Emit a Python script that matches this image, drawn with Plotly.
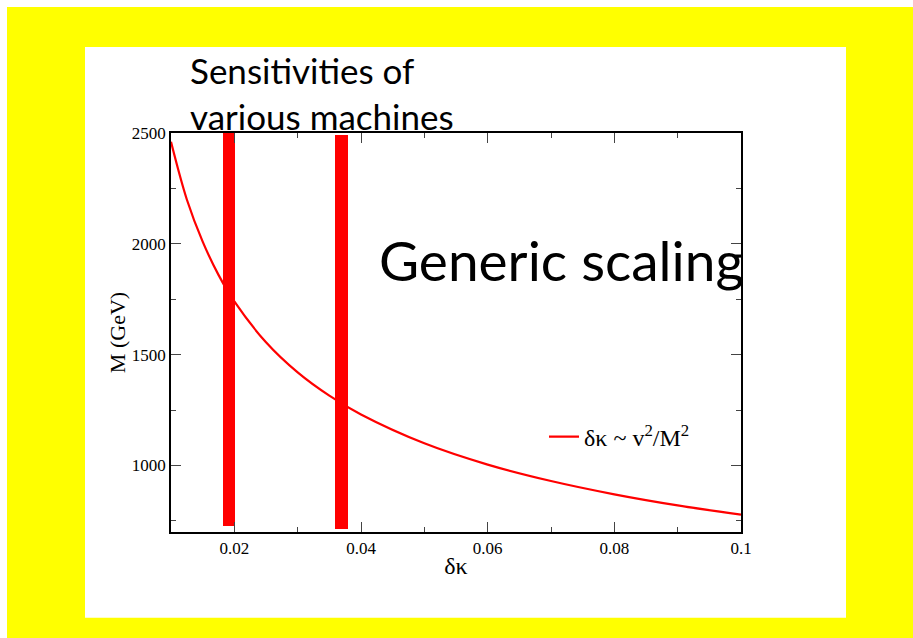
import plotly.graph_objects as go

# Curve: delta kappa vs mass scale M (GeV)
dk = [0.010, 0.0125, 0.015, 0.0175, 0.020, 0.025, 0.030, 0.035, 0.040,
      0.050, 0.060, 0.070, 0.080, 0.090, 0.100]
mass = [2460, 2200, 2010, 1860, 1740, 1556, 1420, 1315, 1230,
        1100, 1004, 930, 870, 820, 778]

# Sensitivity bars (vertical red bands)
bar_x = [0.0192, 0.0369]
bar_width = [0.0019, 0.0020]
bar_bottom = [728, 712]
bar_top = [2500, 2490]

x_range = [0.01, 0.1]
y_range = [700, 2500]

legend_label = "δκ ~ v<sup>2</sup>/M<sup>2</sup>"
title_text = "Sensitivities of<br>various machines"
big_text = "Generic scaling"

W, H = 913, 638
L, R, T, B = 171, 741, 133, 532


def px(xp):
    return (xp - L) / (R - L)


def py(yp):
    return (B - yp) / (B - T)


fig = go.Figure()

fig.add_trace(go.Bar(
    x=bar_x, y=[t - b for t, b in zip(bar_top, bar_bottom)], base=bar_bottom,
    width=bar_width, marker=dict(color="#ff0000", line=dict(width=0)),
    showlegend=False, hoverinfo="skip"))

fig.add_trace(go.Scatter(
    x=dk, y=mass, mode="lines", line=dict(color="#ff0000", width=2.2, shape="spline"),
    name=legend_label, showlegend=True))

serif = "Liberation Serif, Times New Roman, serif"

axis_common = dict(
    showline=True, linecolor="black", linewidth=1.5, mirror="allticks",
    ticks="inside", ticklen=10, tickwidth=1, tickcolor="#444",
    showgrid=False, zeroline=False,
    tickfont=dict(family=serif, size=17, color="black"),
)

fig.update_xaxes(range=x_range, dtick=0.02, tick0=0,
                 minor=dict(ticks="inside", ticklen=5, dtick=0.01, tick0=0, tickcolor="#444", showgrid=False),
                 title=dict(text="δκ", font=dict(family=serif, size=24, color="black"), standoff=0),
                 **axis_common)
fig.update_yaxes(range=y_range, dtick=500, tick0=0,
                 minor=dict(ticks="inside", ticklen=5, dtick=250, tick0=0, tickcolor="#444", showgrid=False),
                 title=dict(text="M (GeV)", font=dict(family=serif, size=22, color="black"), standoff=0),
                 **axis_common)

shapes = [
    dict(type="rect", xref="paper", yref="paper", x0=px(7), x1=px(913), y0=py(638), y1=py(7),
         fillcolor="#ffff00", line=dict(width=0), layer="below"),
    dict(type="rect", xref="paper", yref="paper", x0=px(85), x1=px(846), y0=py(617.7), y1=py(47),
         fillcolor="white", line=dict(width=0), layer="below"),
]

annotations = [
    dict(text=title_text, xref="paper", yref="paper", x=px(188), y=py(47), xanchor="left", yanchor="top",
         showarrow=False, align="left", font=dict(family="Lato, sans-serif", size=35, color="black")),
    dict(text=big_text, xref="paper", yref="paper", x=px(377), y=py(260), xanchor="left", yanchor="middle",
         showarrow=False, align="left", font=dict(family="Lato, sans-serif", size=55, color="black")),
]

fig.update_layout(
    width=W, height=H,
    margin=dict(l=L, r=W - R, t=T, b=H - B, pad=0),
    paper_bgcolor="white", plot_bgcolor="rgba(0,0,0,0)",
    shapes=shapes, annotations=annotations,
    bargap=0,
    legend=dict(x=px(544), y=py(437), xanchor="left", yanchor="middle",
                bgcolor="rgba(0,0,0,0)", borderwidth=0, itemwidth=30,
                font=dict(family=serif, size=24, color="black")),
)

fig.write_html("out.html", config={"displayModeBar": False},
               post_script="document.body.style.margin='0';document.body.style.overflow='hidden';")
